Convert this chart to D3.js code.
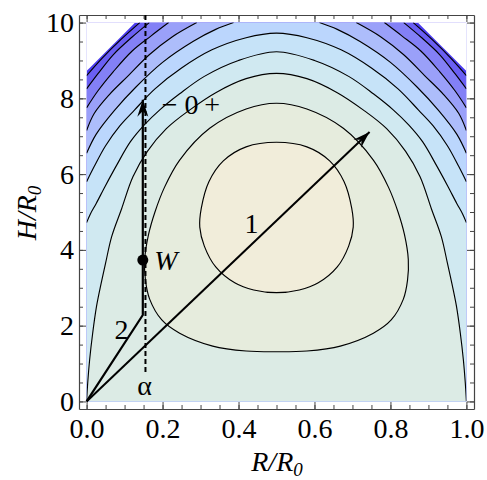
<!DOCTYPE html>
<html><head><meta charset="utf-8">
<script src="https://cdn.jsdelivr.net/npm/d3@7"></script>
<style>body{margin:0;background:#fff}svg{display:block;font-family:"Liberation Serif",serif}</style>
</head><body>
<svg id="chart" width="487" height="480"></svg>
<script>
// ---------- data ----------
const xTicks = [0, 0.2, 0.4, 0.6, 0.8, 1.0];
const xTickLabels = ["0.0", "0.2", "0.4", "0.6", "0.8", "1.0"];
const yTicks = [0, 2, 4, 6, 8, 10];
const yTickLabels = ["0", "2", "4", "6", "8", "10"];
const xMinorTicks = [0,0.05,0.1,0.15,0.2,0.25,0.3,0.35,0.4,0.45,0.5,0.55,0.6,0.65,0.7,0.75,0.8,0.85,0.9,0.95,1.0];
const yMinorTicks = [0,0.5,1,1.5,2,2.5,3,3.5,4,4.5,5,5.5,6,6.5,7,7.5,8,8.5,9,9.5,10];

// contour lines [R/R0, H/R0]; L1 = highest level (innermost)
const contourL1 = [[0.5,6.84],[0.42,6.72],[0.36,6.35],[0.322,5.8],[0.302,5.1],[0.298,4.6],[0.31,4.1],[0.34,3.55],[0.39,3.13],[0.44,2.94],[0.5,2.87],[0.56,2.94],[0.61,3.13],[0.66,3.55],[0.69,4.1],[0.702,4.6],[0.698,5.1],[0.678,5.8],[0.64,6.35],[0.58,6.72]];
const contourL2 = [[0.5,7.87],[0.42,7.72],[0.324,7.21],[0.245,6.37],[0.205,5.65],[0.18,5.0],[0.163,4.4],[0.153,3.75],[0.155,3.2],[0.166,2.7],[0.198,2.15],[0.245,1.8],[0.332,1.46],[0.42,1.33],[0.5,1.31],[0.58,1.33],[0.668,1.46],[0.755,1.8],[0.802,2.15],[0.834,2.7],[0.845,3.2],[0.847,3.75],[0.837,4.4],[0.82,5.0],[0.795,5.65],[0.755,6.37],[0.676,7.21],[0.58,7.72]];
const contourL3 = [[0,0],[0.003,0.5],[0.008,1.1],[0.016,1.8],[0.026,2.5],[0.038,3.1],[0.05,3.65],[0.066,4.35],[0.092,5.08],[0.122,5.93],[0.16,6.6],[0.21,7.2],[0.271,7.69],[0.34,8.15],[0.42,8.52],[0.5,8.66],[0.58,8.52],[0.66,8.15],[0.729,7.69],[0.79,7.2],[0.84,6.6],[0.878,5.93],[0.908,5.08],[0.934,4.35],[0.95,3.65],[0.962,3.1],[0.974,2.5],[0.984,1.8],[0.992,1.1],[0.997,0.5],[1,0]];
const contourL4 = [[0,4.72],[0.01,4.95],[0.025,5.22],[0.05,5.7],[0.08,6.25],[0.115,6.85],[0.152,7.3],[0.192,7.69],[0.245,8.12],[0.31,8.58],[0.4,9.0],[0.5,9.23],[0.6,9.0],[0.69,8.58],[0.755,8.12],[0.808,7.69],[0.848,7.3],[0.885,6.85],[0.92,6.25],[0.95,5.7],[0.975,5.22],[0.99,4.95],[1,4.72]];
const contourL5 = [[0,5.8],[0.02,6.2],[0.05,6.75],[0.088,7.28],[0.126,7.69],[0.18,8.25],[0.25,8.8],[0.33,9.28],[0.42,9.6],[0.5,9.72],[0.58,9.6],[0.67,9.28],[0.75,8.8],[0.82,8.25],[0.874,7.69],[0.912,7.28],[0.95,6.75],[0.98,6.2],[1,5.8]];
const contourL6Left = [[0,6.55],[0.025,7.05],[0.074,7.69],[0.13,8.3],[0.2,8.95],[0.28,9.5],[0.34,9.82],[0.387,10]];
const contourL6Right = [[0.613,10],[0.66,9.82],[0.72,9.5],[0.8,8.95],[0.87,8.3],[0.926,7.69],[0.975,7.05],[1,6.55]];
const contourL7Left = [[0,7.15],[0.02,7.6],[0.06,8.1],[0.11,8.6],[0.165,9.15],[0.225,9.62],[0.29,10]];
const contourL7Right = [[0.71,10],[0.775,9.62],[0.835,9.15],[0.89,8.6],[0.94,8.1],[0.98,7.6],[1,7.15]];
const contourL8Left = [[0,7.75],[0.03,8.2],[0.07,8.7],[0.12,9.25],[0.17,9.65],[0.216,10]];
const contourL8Right = [[0.784,10],[0.83,9.65],[0.88,9.25],[0.93,8.7],[0.97,8.2],[1,7.75]];
const contourL9Left = [[0,8.25],[0.03,8.65],[0.07,9.15],[0.12,9.62],[0.165,10]];
const contourL9Right = [[0.835,10],[0.88,9.62],[0.93,9.15],[0.97,8.65],[1,8.25]];
const contourL10Left = [[0,8.6],[0.04,9.05],[0.09,9.55],[0.14,10]];
const contourL10Right = [[0.86,10],[0.91,9.55],[0.96,9.05],[1,8.6]];
// clipped (outside plot range) corners
const cutLeft = [[0,8.72],[0.128,10],[0,10]];
const cutRight = [[1,8.72],[0.872,10],[1,10]];

// band colours: below L10 (darkest) ... above L1 (centre)
const bandColors = ["#4b3cf0","#6a5ff3","#8380f6","#9aa0f9","#adbdfb","#bbd6fd","#c6e3f8","#d0e9f1","#dcebe5","#e6ecdd","#f1edda"];

// paths / annotations
const arrow1 = [[0,0],[0.745,7.11]];
const arrow2 = [[0,0],[0.148,2.28],[0.148,7.96]];
const alphaLine = [[0.155,10.2],[0.155,0.75]];
const pointW = [0.148,3.73];
const labels = [
  {text:"1", at:[0.434,4.45], anchor:"middle", italic:false},
  {text:"2", at:[0.092,1.65], anchor:"middle", italic:false},
  {text:"W", at:[0.178,3.47], anchor:"start", italic:true},
  {text:"α", at:[0.153,0.17], anchor:"middle", italic:false},
  {text:"− 0\u2009+", at:[0.198,7.6], anchor:"start", italic:false}
];

// ---------- drawing ----------
const svg = d3.select("#chart");
const x = d3.scaleLinear().domain([-0.02, 1.02]).range([79, 474]);
const y = d3.scaleLinear().domain([-0.2, 10.2]).range([409, 15]);
const FONT = "Liberation Serif";

svg.append("defs").append("clipPath").attr("id","dataClip")
  .append("rect").attr("x", x(0)).attr("y", y(10)).attr("width", x(1)-x(0)).attr("height", y(0)-y(10));

const line = d3.line().x(d => x(d[0])).y(d => y(d[1])).curve(d3.curveCatmullRom.alpha(0.5));
const closedLine = d3.line().x(d => x(d[0])).y(d => y(d[1])).curve(d3.curveCatmullRomClosed.alpha(0.5));
const straight = d3.line().x(d => x(d[0])).y(d => y(d[1]));

const bottomClose = "L" + x(1) + "," + y(0) + "L" + x(0) + "," + y(0) + "Z";
const openLevels = [
  [contourL10Left, contourL10Right],
  [contourL9Left, contourL9Right],
  [contourL8Left, contourL8Right],
  [contourL7Left, contourL7Right],
  [contourL6Left, contourL6Right],
  [contourL5],
  [contourL4],
  [contourL3]
];

const g = svg.append("g").attr("clip-path", "url(#dataClip)");
g.append("rect").attr("x", x(0)).attr("y", y(10)).attr("width", x(1)-x(0)).attr("height", y(0)-y(10))
  .attr("fill", bandColors[0]);
openLevels.forEach((pieces, i) => {
  let d = line(pieces[0]);
  if (pieces.length > 1) d += line(pieces[1]).replace(/^M/, "L");
  d += bottomClose;
  g.append("path").attr("d", d).attr("fill", bandColors[i+1]);
});
g.append("path").attr("d", closedLine(contourL2)).attr("fill", bandColors[9]);
g.append("path").attr("d", closedLine(contourL1)).attr("fill", bandColors[10]);

const allOpen = [contourL10Left, contourL10Right, contourL9Left, contourL9Right, contourL8Left, contourL8Right,
  contourL7Left, contourL7Right, contourL6Left, contourL6Right, contourL5, contourL4, contourL3];
allOpen.forEach(p => g.append("path").attr("d", line(p)).attr("fill","none").attr("stroke","#000").attr("stroke-width",1.15));
[contourL2, contourL1].forEach(p => g.append("path").attr("d", closedLine(p)).attr("fill","none").attr("stroke","#000").attr("stroke-width",1.15));
[cutLeft, cutRight].forEach(p => g.append("path").attr("d", straight(p) + "Z").attr("fill","#fff"));

// axes (frame)
function styleAxis(sel){
  sel.attr("font-family", FONT);
  sel.select(".domain").attr("stroke","#444").attr("stroke-width",1.2);
  sel.selectAll(".tick line").attr("stroke","#444").attr("stroke-width",1);
  sel.selectAll(".tick text").attr("font-family", FONT).attr("font-size", 28).attr("fill","#000");
}
const fmtX = (d,i) => xTickLabels[i];
const fmtY = (d,i) => yTickLabels[i];
svg.append("g").attr("transform","translate(0,409)")
  .call(d3.axisBottom(x).tickValues(xTicks).tickFormat(fmtX).tickSize(-7).tickSizeOuter(0).tickPadding(9)).call(styleAxis);
svg.append("g").attr("transform","translate(0,15)")
  .call(d3.axisTop(x).tickValues(xTicks).tickFormat("").tickSize(-7).tickSizeOuter(0)).call(styleAxis);
svg.append("g").attr("transform","translate(79,0)")
  .call(d3.axisLeft(y).tickValues(yTicks).tickFormat(fmtY).tickSize(-7).tickSizeOuter(0).tickPadding(5)).call(styleAxis);
svg.append("g").attr("transform","translate(474,0)")
  .call(d3.axisRight(y).tickValues(yTicks).tickFormat("").tickSize(-7).tickSizeOuter(0)).call(styleAxis);
[["axisBottom",409,x,xMinorTicks],["axisTop",15,x,xMinorTicks]].forEach(([a,pos,s,t]) => {
  svg.append("g").attr("transform","translate(0,"+pos+")")
    .call(d3[a](s).tickValues(t).tickFormat("").tickSize(-4).tickSizeOuter(0))
    .call(sel => { sel.select(".domain").remove(); sel.selectAll(".tick line").attr("stroke","#444"); });
});
[["axisLeft",79,y,yMinorTicks],["axisRight",474,y,yMinorTicks]].forEach(([a,pos,s,t]) => {
  svg.append("g").attr("transform","translate("+pos+",0)")
    .call(d3[a](s).tickValues(t).tickFormat("").tickSize(-4).tickSizeOuter(0))
    .call(sel => { sel.select(".domain").remove(); sel.selectAll(".tick line").attr("stroke","#444"); });
});

// axis titles
const xt = svg.append("text").attr("x", 277).attr("y", 471).attr("text-anchor","middle")
  .attr("font-family", FONT).attr("font-size", 28).attr("font-style","italic");
xt.append("tspan").text("R/R");
xt.append("tspan").attr("font-size", 19).attr("dy", 5).text("0");
const yt = svg.append("text").attr("transform","translate(36,213) rotate(-90)").attr("text-anchor","middle")
  .attr("font-family", FONT).attr("font-size", 28).attr("font-style","italic");
yt.append("tspan").text("H/R");
yt.append("tspan").attr("font-size", 19).attr("dy", 5).text("0");

// dashed alpha line
svg.append("path").attr("d", straight(alphaLine)).attr("fill","none").attr("stroke","#000")
  .attr("stroke-width",2).attr("stroke-dasharray","5,3");

// arrows
function arrowHead(p0, p1){
  const X0 = x(p0[0]), Y0 = y(p0[1]), X1 = x(p1[0]), Y1 = y(p1[1]);
  const len = Math.hypot(X1-X0, Y1-Y0), ux = (X1-X0)/len, uy = (Y1-Y0)/len, nx = -uy, ny = ux;
  const L = 17, W = 11;
  const pts = [[X1,Y1],[X1-L*ux+W/2*nx, Y1-L*uy+W/2*ny],[X1-0.65*L*ux, Y1-0.65*L*uy],[X1-L*ux-W/2*nx, Y1-L*uy-W/2*ny]];
  svg.append("path").attr("d","M"+pts.map(p=>p.join(",")).join("L")+"Z").attr("fill","#000");
}
const lin = d3.line().x(d => x(d[0])).y(d => y(d[1]));
svg.append("path").attr("d", lin(arrow1)).attr("fill","none").attr("stroke","#000").attr("stroke-width",2);
arrowHead(arrow1[0], arrow1[1]);
svg.append("path").attr("d", lin(arrow2)).attr("fill","none").attr("stroke","#000").attr("stroke-width",2.2);
arrowHead(arrow2[1], arrow2[2]);

svg.append("circle").attr("cx", x(pointW[0])).attr("cy", y(pointW[1])).attr("r", 5.5).attr("fill","#000");

labels.forEach(l => {
  svg.append("text").attr("x", x(l.at[0])).attr("y", y(l.at[1])).attr("text-anchor", l.anchor)
    .attr("font-family", FONT).attr("font-size", 28).attr("font-style", l.italic ? "italic" : "normal")
    .text(l.text);
});
</script>
</body></html>
